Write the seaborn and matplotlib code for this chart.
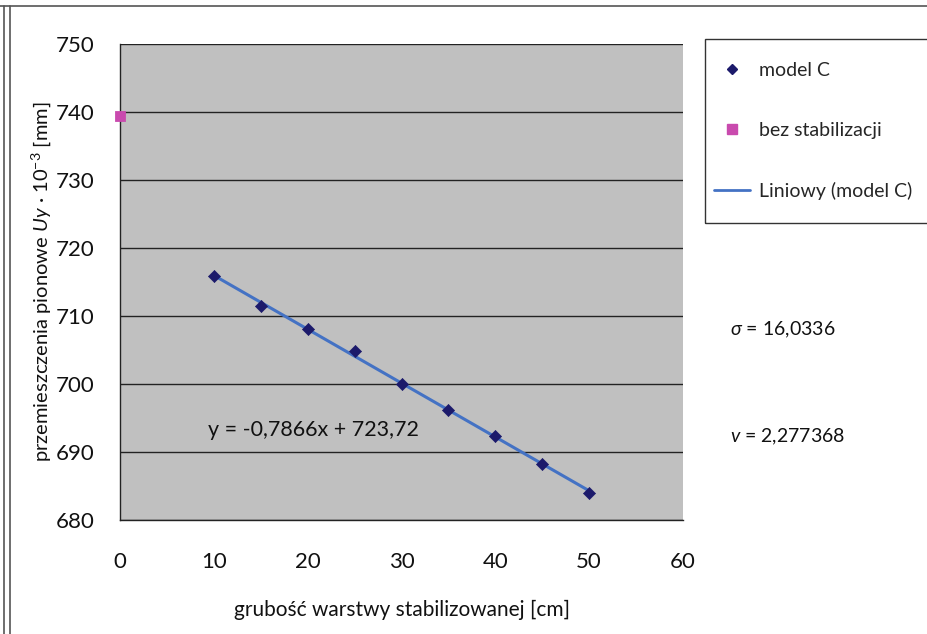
import matplotlib
matplotlib.use("Agg")
import matplotlib.pyplot as plt
import seaborn as sns
import numpy as np
import pandas as pd
from matplotlib.lines import Line2D
from matplotlib.patches import Rectangle

# ---- data ----
model_c_x = [10, 15, 20, 25, 30, 35, 40, 45, 50]
model_c_y = [715.9, 711.5, 708.1, 704.9, 700.0, 696.2, 692.4, 688.2, 684.0]
bez_x = [0]
bez_y = [739.4]
x_ticks = [0, 10, 20, 30, 40, 50, 60]
y_ticks = [680, 690, 700, 710, 720, 730, 740, 750]
equation = "y = -0,7866x + 723,72"
sigma_text = r"$\sigma$ = 16,0336"
v_text = r"$v$ = 2,277368"
labels = ["model C", "bez stabilizacji", "Liniowy (model C)"]

sns.set_theme(style="white")
plt.rcParams['font.family'] = ['Lato', 'DejaVu Sans']
plt.rcParams['mathtext.fontset'] = 'custom'
plt.rcParams['mathtext.it'] = 'Lato:italic'
plt.rcParams['mathtext.rm'] = 'Lato'

df_c = pd.DataFrame({"x": model_c_x, "y": model_c_y})
df_b = pd.DataFrame({"x": bez_x, "y": bez_y})

W, H = 927, 634
fig = plt.figure(figsize=(W/100, H/100), dpi=100)
ax = fig.add_axes([120/W, 1-520/H, (683-120)/W, (520-44)/H])
ax.set_facecolor("#c0c0c0")

sns.regplot(data=df_c, x="x", y="y", ax=ax, scatter=False, ci=None, truncate=True,
            line_kws=dict(color="#4472c4", lw=2.2, zorder=3))
sns.scatterplot(data=df_c, x="x", y="y", ax=ax, marker="D", s=38, color="#1c1a6b",
                edgecolor="#1c1a6b", zorder=4)
sns.scatterplot(data=df_b, x="x", y="y", ax=ax, marker="s", s=55, color="#c94aae",
                edgecolor="#c94aae", zorder=4, clip_on=False)

ax.set_xlim(0, 60)
ax.set_ylim(680, 750)
ax.set_xticks(x_ticks)
ax.set_yticks(y_ticks)
ax.yaxis.grid(True, color="#222222", lw=1.0)
ax.set_axisbelow(True)
for s in ["top", "right"]:
    ax.spines[s].set_visible(False)
for s in ["left", "bottom"]:
    ax.spines[s].set_color("#222222")
    ax.spines[s].set_linewidth(1.0)
ax.tick_params(axis="both", which="both", direction="out", length=11, width=1.0,
               color="#222222", labelsize=16, labelcolor="#111111")
ax.tick_params(axis="x", pad=12)
ax.tick_params(axis="y", pad=7)

ax.set_xlabel("grubość warstwy stabilizowanej [cm]", fontsize=15, labelpad=20, color="#111111")
ax.set_ylabel(r"przemieszczenia pionowe $\mathit{Uy}$ · 10$^{\mathregular{-3}}$ [mm]",
              fontsize=14.5, labelpad=2, color="#111111")

ax.text(9.4, 693.2, equation, fontsize=15.5, ha="left", va="center", color="#111111")

fig.text(730/W, 1-330/H, sigma_text, fontsize=14, ha="left", va="center", color="#111111")
fig.text(730/W, 1-437/H, v_text, fontsize=14, ha="left", va="center", color="#111111")

handles = [
    Line2D([], [], marker="D", ls="", color="#1c1a6b", markersize=5.5),
    Line2D([], [], marker="s", ls="", color="#c94aae", markersize=6.5),
    Line2D([], [], color="#4472c4", lw=2),
]
leg = fig.legend(handles, labels, loc="upper left", bbox_to_anchor=(714/W, 1-62/H),
                 frameon=False, fontsize=14, labelspacing=2.2, handlelength=1.85,
                 borderpad=0, handletextpad=0.45, borderaxespad=0)
fig.add_artist(Rectangle((705/W, 1-223/H), (935-705)/W, (223-39)/H, transform=fig.transFigure,
                         fill=False, edgecolor="#333333", lw=1.0, clip_on=False))

# outer frame lines
fig.add_artist(Line2D([0, 1], [1-6/H, 1-6/H], transform=fig.transFigure, color="#555555", lw=1.2))
fig.add_artist(Line2D([3.5/W, 3.5/W], [0, 1-6/H], transform=fig.transFigure, color="#555555", lw=1.2))
fig.add_artist(Line2D([9.5/W, 9.5/W], [0, 1-6/H], transform=fig.transFigure, color="#555555", lw=1.2))

fig.savefig("out.png", dpi=100)
